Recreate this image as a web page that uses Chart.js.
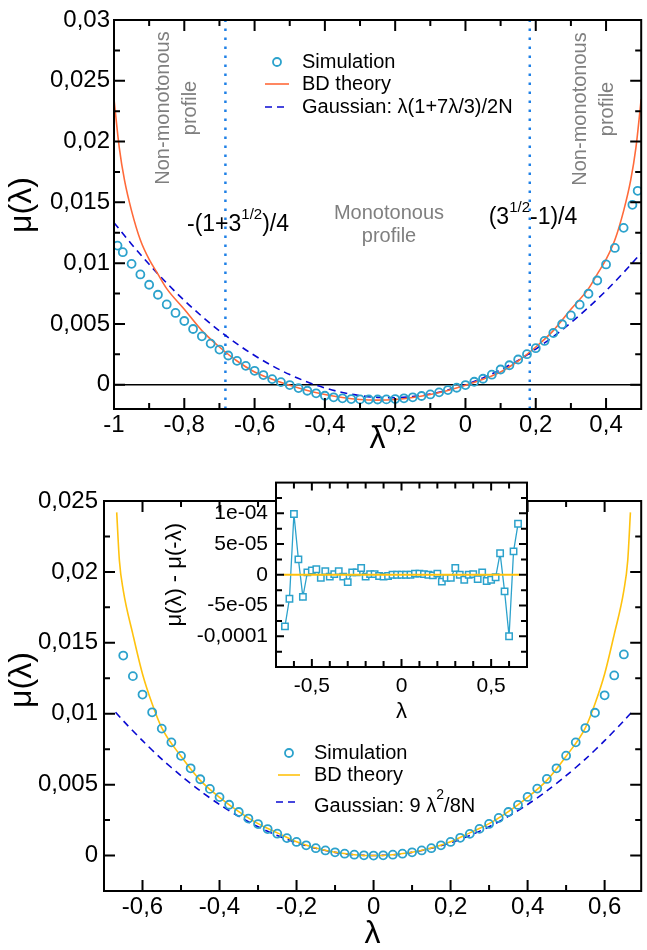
<!DOCTYPE html>
<html>
<head>
<meta charset="utf-8">
<script src="https://cdn.jsdelivr.net/npm/chart.js@4.4.1/dist/chart.umd.min.js"></script>
<style>
  body { margin: 0; background: #fff; }
  #wrap { position: relative; width: 647px; height: 950px; overflow: hidden; }
  canvas { position: absolute; }
  #top { left: 0; top: 0; }
  #bottom { left: 0; top: 455px; }
  #inset { left: 150px; top: 462px; z-index: 2; }
</style>
</head>
<body>
<div id="wrap">
  <canvas id="top" width="647" height="455"></canvas>
  <canvas id="bottom" width="647" height="495"></canvas>
  <canvas id="inset" width="392" height="264"></canvas>
</div>
<script>
// ---- top panel data
const simLamTop = [-0.99, -0.975, -0.95, -0.925, -0.9, -0.875, -0.85, -0.825, -0.8, -0.775, -0.75, -0.725, -0.7, -0.675, -0.65, -0.625, -0.6, -0.575, -0.55, -0.525, -0.5, -0.475, -0.45, -0.425, -0.4, -0.375, -0.35, -0.325, -0.3, -0.275, -0.25, -0.225, -0.2, -0.175, -0.15, -0.125, -0.1, -0.075, -0.05, -0.025, 0, 0.025, 0.05, 0.075, 0.1, 0.125, 0.15, 0.175, 0.2, 0.225, 0.25, 0.275, 0.3, 0.325, 0.35, 0.375, 0.4, 0.425, 0.45, 0.475, 0.49];
const simMuTop = [0.01144, 0.0109, 0.00994, 0.00907, 0.00822, 0.0074, 0.0066, 0.0059, 0.00524, 0.00458, 0.00398, 0.00338, 0.00289, 0.0024, 0.00196, 0.00155, 0.00114, 0.00079, 0.00046, 0.00021, -0.00003, -0.00028, -0.0005, -0.00071, -0.00091, -0.00104, -0.00112, -0.00118, -0.00121, -0.00122, -0.00122, -0.00121, -0.00118, -0.00112, -0.00104, -0.00093, -0.0008, -0.00063, -0.00044, -0.00025, -0.00003, 0.00024, 0.00049, 0.00082, 0.00125, 0.0016, 0.00207, 0.00251, 0.003, 0.0036, 0.00425, 0.00497, 0.0057, 0.00658, 0.00748, 0.00857, 0.00989, 0.01125, 0.0129, 0.0148, 0.01595];
const bdLamTop = [-1, -0.985, -0.97, -0.95, -0.925, -0.9, -0.875, -0.85, -0.8, -0.75, -0.7, -0.65, -0.6, -0.55, -0.5, -0.45, -0.4, -0.35, -0.3, -0.25, -0.2, -0.15, -0.1, -0.05, 0, 0.05, 0.1, 0.15, 0.2, 0.25, 0.3, 0.35, 0.375, 0.4, 0.425, 0.45, 0.47, 0.485, 0.5];
const bdMuTop = [0.0235, 0.0195, 0.0168, 0.0143, 0.0119, 0.0103, 0.0091, 0.0079, 0.0062, 0.00445, 0.0031, 0.00195, 0.00105, 0.00045, -0.00005, -0.00047, -0.0008, -0.00106, -0.00122, -0.00127, -0.00122, -0.00106, -0.0008, -0.00047, -0.00005, 0.00045, 0.00105, 0.00195, 0.0031, 0.00445, 0.0062, 0.0079, 0.0091, 0.0103, 0.0119, 0.0143, 0.0168, 0.0195, 0.0235];
const gaussLamTop = [-1, -0.95, -0.9, -0.85, -0.8, -0.75, -0.7, -0.65, -0.6, -0.55, -0.5, -0.45, -0.4, -0.35, -0.3, -0.25, -0.2, -0.15, -0.1, -0.05, 0, 0.05, 0.1, 0.15, 0.2, 0.25, 0.3, 0.35, 0.4, 0.45, 0.5];
const gaussMuTop = [0.01333, 0.01156, 0.0099, 0.00836, 0.00693, 0.005625, 0.00443, 0.00336, 0.0024, 0.00156, 0.00083, 0.000225, -0.000267, -0.00064, -0.0009, -0.00104, -0.00107, -0.000975, -0.00077, -0.00044, 0, 0.00056, 0.00123, 0.002, 0.00293, 0.00396, 0.0051, 0.00636, 0.00773, 0.00923, 0.01083];
const boundaries = [-0.683, 0.183];

// ---- bottom panel data
const simLamBot = [-0.65, -0.625, -0.6, -0.575, -0.55, -0.525, -0.5, -0.475, -0.45, -0.425, -0.4, -0.375, -0.35, -0.325, -0.3, -0.275, -0.25, -0.225, -0.2, -0.175, -0.15, -0.125, -0.1, -0.075, -0.05, -0.025, 0, 0.025, 0.05, 0.075, 0.1, 0.125, 0.15, 0.175, 0.2, 0.225, 0.25, 0.275, 0.3, 0.325, 0.35, 0.375, 0.4, 0.425, 0.45, 0.475, 0.5, 0.525, 0.55, 0.575, 0.6, 0.625, 0.65];
const simMuBot = [0.0141, 0.01265, 0.01135, 0.0101, 0.00895, 0.00798, 0.00703, 0.00615, 0.00538, 0.0047, 0.00412, 0.00358, 0.00307, 0.00261, 0.00222, 0.00187, 0.00154, 0.00123, 0.00096, 0.00072, 0.00052, 0.00036, 0.00023, 0.00013, 0.00006, 0.000015, 0, 0.000015, 0.00006, 0.00013, 0.00023, 0.00036, 0.00052, 0.00072, 0.00096, 0.00125, 0.00153, 0.00188, 0.00223, 0.00265, 0.00307, 0.00357, 0.00413, 0.00472, 0.0054, 0.00615, 0.00704, 0.00798, 0.00899, 0.01007, 0.0113, 0.0127, 0.01418];
const bdLamBot = [-0.667, -0.66, -0.65, -0.625, -0.6, -0.575, -0.55, -0.5, -0.45, -0.4, -0.35, -0.3, -0.25, -0.2, -0.15, -0.1, -0.05, 0, 0.05, 0.1, 0.15, 0.2, 0.25, 0.3, 0.35, 0.4, 0.45, 0.5, 0.55, 0.575, 0.6, 0.625, 0.65, 0.66, 0.667];
const bdMuBot = [0.0242, 0.0208, 0.0187, 0.0156, 0.0128, 0.0107, 0.009, 0.007, 0.0053, 0.0041, 0.0031, 0.00225, 0.0016, 0.00097, 0.00053, 0.00023, 0.00006, 0, 0.00006, 0.00023, 0.00053, 0.00097, 0.0016, 0.00225, 0.0031, 0.0041, 0.0053, 0.007, 0.009, 0.0107, 0.0128, 0.0156, 0.0187, 0.0208, 0.0242];
const gaussLamBot = [-0.67, -0.65, -0.6, -0.55, -0.5, -0.45, -0.4, -0.35, -0.3, -0.25, -0.2, -0.15, -0.1, -0.05, 0, 0.05, 0.1, 0.15, 0.2, 0.25, 0.3, 0.35, 0.4, 0.45, 0.5, 0.55, 0.6, 0.65, 0.67];
const gaussMuBot = [0.0101, 0.0095, 0.0081, 0.0068, 0.00563, 0.00456, 0.0036, 0.00276, 0.00203, 0.00141, 0.0009, 0.00051, 0.000225, 0.000056, 0, 0.000056, 0.000225, 0.00051, 0.0009, 0.00141, 0.00203, 0.00276, 0.0036, 0.00456, 0.00563, 0.0068, 0.0081, 0.0095, 0.0101];

// ---- inset data: mu(l) - mu(-l)
const diffLam = simLamBot;
const diffMu = [-8.4e-5, -3.9e-5, 9.9e-5, 2.5e-5, -3.6e-5, 0.4e-5, 0.7e-5, 0.9e-5, -0.5e-5, 0.6e-5, -0.3e-5, 0.1e-5, 0.6e-5, -0.3e-5, -1.2e-5, 0.4e-5, 0.4e-5, 1.1e-5, -0.3e-5, 0.1e-5, 0.1e-5, -0.2e-5, -0.3e-5, -0.2e-5, 0, 0, 0, 0, 0, 0.2e-5, 0.2e-5, 0.1e-5, 0, -0.1e-5, 0.2e-5, -1.1e-5, -0.5e-5, -0.5e-5, 1.1e-5, 0, -0.8e-5, 0, 0.1e-5, -0.7e-5, 0.4e-5, -1.0e-5, -0.8e-5, -0.4e-5, 3.5e-5, -2.7e-5, -10.0e-5, 3.8e-5, 8.3e-5];
const bdDiffLam = [-0.66, 0.66];
const bdDiffMu = [0, 0];

const FONT = '"Liberation Sans", Arial, Helvetica, sans-serif';
const SIM = '#2ca2cc', ORANGE = '#ff6a3a', GOLD = '#ffc20e', DASH = '#0a0ad2', DOT = '#1f80e6', GREY = '#7f7f7f';

Chart.defaults.font.family = FONT;
Chart.defaults.color = '#000';

const pts = (xs, ys) => xs.map((x, i) => ({x: x, y: ys[i]}));
const range = (a, b, s) => { const r = []; for (let v = a; v <= b + s / 1000; v += s) r.push(+v.toFixed(6)); return r; };

function decimalLabel(v, step) {
    const k = v / step;
    if (Math.abs(k - Math.round(k)) > 1e-6) return '';
    return String(parseFloat(v.toFixed(6))).replace('.', ',');
}

function axis(min, max, step, size, pad, font, cb) {
    return {
        type: 'linear', min: min, max: max,
        grid: {display: false, drawTicks: false},
        border: {display: false},
        ticks: {stepSize: step, includeBounds: false, autoSkip: false, maxRotation: 0, padding: pad, color: '#000', font: {size: font},
            callback: cb || (v => decimalLabel(v, step))},
        afterFit: s => { if (s.isHorizontal()) s.height = size; else s.width = size; }
    };
}

// frame box + inward ticks on all four sides
function frame(opt) {
    return {
        id: 'frame',
        beforeDraw(chart) {
            if (!opt.fill) return;
            const a = chart.chartArea, ctx = chart.ctx;
            ctx.save();
            ctx.fillStyle = '#fff';
            ctx.fillRect(a.left, a.top, a.right - a.left, a.bottom - a.top);
            ctx.restore();
        },
        afterDatasetsDraw(chart) {
            const {ctx, chartArea: a, scales: {x, y}} = chart;
            ctx.save();
            ctx.strokeStyle = '#000';
            ctx.lineWidth = opt.lw;
            ctx.beginPath();
            const seg = (x1, y1, x2, y2) => { ctx.moveTo(x1, y1); ctx.lineTo(x2, y2); };
            const major = sc => sc.ticks.filter(t => t.label !== '').map(t => t.value);
            const xs = (vals, len) => vals.forEach(v => {
                const p = x.getPixelForValue(v);
                seg(p, a.bottom, p, a.bottom - len); seg(p, a.top, p, a.top + len);
            });
            const ys = (vals, len) => vals.forEach(v => {
                const p = y.getPixelForValue(v);
                seg(a.left, p, a.left + len, p); seg(a.right, p, a.right - len, p);
            });
            xs(major(x), opt.major); ys(major(y), opt.major);
            xs(opt.xMinor, opt.minor); ys(opt.yMinor, opt.minor);
            ctx.stroke();
            ctx.strokeRect(a.left, a.top, a.right - a.left, a.bottom - a.top);
            ctx.restore();
        }
    };
}

// text helpers
function rich(ctx, parts, x, cy, align, color) {
    let w = 0;
    parts.forEach(p => { ctx.font = p[1] + 'px ' + FONT; w += ctx.measureText(p[0]).width; });
    let cx = align === 'center' ? x - w / 2 : x;
    ctx.fillStyle = color || '#000';
    ctx.textAlign = 'left';
    ctx.textBaseline = 'middle';
    parts.forEach(p => {
        ctx.font = p[1] + 'px ' + FONT;
        ctx.fillText(p[0], cx, cy + (p[2] || 0));
        cx += ctx.measureText(p[0]).width;
    });
}
function rotText(ctx, text, x, y, size, color) {
    ctx.save();
    ctx.translate(x, y);
    ctx.rotate(-Math.PI / 2);
    ctx.font = size + 'px ' + FONT;
    ctx.fillStyle = color;
    ctx.textAlign = 'center';
    ctx.textBaseline = 'middle';
    ctx.fillText(text, 0, 0);
    ctx.restore();
}
function legendRow(ctx, kind, color, x1, x2, y) {
    ctx.save();
    ctx.strokeStyle = color;
    if (kind === 'circle') {
        ctx.lineWidth = 1.8;
        ctx.beginPath(); ctx.arc((x1 + x2) / 2, y, 4, 0, 2 * Math.PI); ctx.stroke();
    } else {
        ctx.lineWidth = 1.6;
        if (kind === 'dash') ctx.setLineDash([7, 5]);
        ctx.beginPath(); ctx.moveTo(x1, y); ctx.lineTo(x2, y); ctx.stroke();
    }
    ctx.restore();
}

const baseOpts = {
    responsive: false, animation: false, events: [],
    plugins: {legend: {display: false}, tooltip: {enabled: false}}
};

//====================================
// top panel
const topNotes = {
    id: 'topNotes',
    afterDraw(chart) {
        const ctx = chart.ctx;
        ctx.save();
        rotText(ctx, 'μ(λ)', 22, 205, 32, '#000');
        rotText(ctx, 'Non-monotonous', 163, 108, 20, GREY);
        rotText(ctx, 'profile', 190, 108, 20, GREY);
        rotText(ctx, 'Non-monotonous', 580, 109, 20, GREY);
        rotText(ctx, 'profile', 607, 109, 20, GREY);
        rich(ctx, [['Monotonous', 20]], 389, 213, 'center', GREY);
        rich(ctx, [['profile', 20]], 389, 236, 'center', GREY);
        rich(ctx, [['-(1+3', 23], ['1/2', 15, -10], [')/4', 23]], 238, 225, 'center');
        rich(ctx, [['(3', 23], ['1/2', 15, -10], ['-1)/4', 23]], 533, 218, 'center');
        legendRow(ctx, 'circle', SIM, 265, 289, 62);
        legendRow(ctx, 'line', ORANGE, 265, 289, 84);
        legendRow(ctx, 'dash', DASH, 265, 289, 107);
        rich(ctx, [['Simulation', 20]], 302, 62, 'left');
        rich(ctx, [['BD theory', 20]], 302, 84, 'left');
        rich(ctx, [['Gaussian: λ(1+7λ/3)/2N', 20]], 302, 107, 'left');
        ctx.restore();
    }
};

const xTop = axis(-1, 0.5, 0.2, 46, 2, 24);
xTop.title = {display: true, text: 'λ', font: {size: 32, lineHeight: 1}, padding: {top: 0, bottom: 0}, color: '#000'};

new Chart(document.getElementById('top'), {
    type: 'scatter',
    data: {
        datasets: [
            {data: pts(simLamTop, simMuTop), showLine: false, pointStyle: 'circle', pointRadius: 4,
                pointBorderColor: SIM, pointBackgroundColor: 'rgba(0,0,0,0)', pointBorderWidth: 1.8},
            {data: pts(bdLamTop, bdMuTop), showLine: true, borderColor: ORANGE, borderWidth: 1.6,
                pointRadius: 0, cubicInterpolationMode: 'monotone'},
            {data: pts(gaussLamTop, gaussMuTop), showLine: true, borderColor: DASH, borderWidth: 1.6,
                borderDash: [7, 5], pointRadius: 0, cubicInterpolationMode: 'monotone'},
            ...boundaries.map(b => ({data: [{x: b, y: -0.002}, {x: b, y: 0.03}], showLine: true,
                borderColor: DOT, borderWidth: 2.5, borderDash: [2.5, 6.5], pointRadius: 0})),
            {data: [{x: -1, y: 0}, {x: 0.5, y: 0}], showLine: true, borderColor: '#000', borderWidth: 1.5, pointRadius: 0}
        ]
    },
    options: {
        ...baseOpts,
        layout: {padding: {top: 20, right: 1, left: 0, bottom: 0}},
        scales: {
            x: xTop,
            y: axis(-0.002, 0.03, 0.005, 114, 4, 24)
        }
    },
    plugins: [frame({lw: 2, major: 11, minor: 6,
        xMinor: [-0.9, -0.7, -0.5, -0.3, -0.1, 0.1, 0.3],
        yMinor: range(0.0025, 0.0275, 0.005)}), topNotes]
});

//====================================
// bottom panel
const botNotes = {
    id: 'botNotes',
    afterDraw(chart) {
        const ctx = chart.ctx;
        ctx.save();
        rotText(ctx, 'μ(λ)', 22, 225, 32, '#000');
        legendRow(ctx, 'circle', SIM, 278, 300, 298);
        legendRow(ctx, 'line', GOLD, 278, 300, 320);
        legendRow(ctx, 'dash', DASH, 276, 300, 347);
        rich(ctx, [['Simulation', 20]], 314, 298, 'left');
        rich(ctx, [['BD theory', 20]], 314, 320, 'left');
        rich(ctx, [['Gaussian: 9 λ', 20], ['2', 14, -11], ['/8N', 20]], 314, 351, 'left');
        ctx.restore();
    }
};

const xBot = axis(-0.7, 0.695, 0.2, 59, 2, 24);
xBot.title = {display: true, text: 'λ', font: {size: 32, lineHeight: 1}, padding: {top: 0, bottom: 0}, color: '#000'};

new Chart(document.getElementById('bottom'), {
    type: 'scatter',
    data: {
        datasets: [
            {data: pts(simLamBot, simMuBot), showLine: false, pointStyle: 'circle', pointRadius: 4,
                pointBorderColor: SIM, pointBackgroundColor: 'rgba(0,0,0,0)', pointBorderWidth: 1.8},
            {data: pts(bdLamBot, bdMuBot), showLine: true, borderColor: GOLD, borderWidth: 1.6,
                pointRadius: 0, cubicInterpolationMode: 'monotone'},
            {data: pts(gaussLamBot, gaussMuBot), showLine: true, borderColor: DASH, borderWidth: 1.6,
                borderDash: [7, 5], pointRadius: 0, tension: 0.3}
        ]
    },
    options: {
        ...baseOpts,
        layout: {padding: {top: 46, right: 1, left: 0, bottom: 0}},
        scales: {
            x: xBot,
            y: axis(-0.0025, 0.025, 0.005, 104, 6, 24)
        }
    },
    plugins: [frame({lw: 2, major: 11, minor: 6,
        xMinor: [-0.5, -0.3, -0.1, 0.1, 0.3, 0.5],
        yMinor: range(0.0025, 0.0225, 0.005)}), botNotes]
});

//====================================
// inset
const insetYLabels = {'2': '1e-04', '1': '5e-05', '0': '0', '-1': '-5e-05', '-2': '-0,0001'};
const xIn = axis(-0.7, 0.7, 0.5, 59, 7, 21);
xIn.title = {display: true, text: 'λ', font: {size: 22, lineHeight: 1}, padding: {top: 0, bottom: 3}, color: '#000'};
const yIn = axis(-1.5e-4, 1.5e-4, 5e-5, 126, 8, 21, v => insetYLabels[Math.round(v / 5e-5)] || '');
yIn.title = {display: true, text: 'μ(λ) - μ(-λ)', font: {size: 22, lineHeight: 1}, padding: {top: 14, bottom: 0}, color: '#000'};

new Chart(document.getElementById('inset'), {
    type: 'scatter',
    data: {
        datasets: [
            {data: pts(bdDiffLam, bdDiffMu), showLine: true, borderColor: GOLD, borderWidth: 2, pointRadius: 0},
            {data: pts(diffLam, diffMu), showLine: true, borderColor: SIM, borderWidth: 1.3,
                pointStyle: 'rect', pointRadius: 4.5, pointBorderColor: SIM,
                pointBackgroundColor: '#fff', pointBorderWidth: 1.5}
        ]
    },
    options: {
        ...baseOpts,
        layout: {padding: {top: 11, right: 15, left: 0, bottom: 0}},
        scales: {x: xIn, y: yIn}
    },
    plugins: [frame({lw: 2, major: 8, minor: 6, fill: true,
        xMinor: [-0.6, -0.4, -0.3, -0.2, -0.1, 0.1, 0.2, 0.3, 0.4, 0.6],
        yMinor: [-1.25e-4, -7.5e-5, -2.5e-5, 2.5e-5, 7.5e-5, 1.25e-4]})]
});
</script>
</body>
</html>
